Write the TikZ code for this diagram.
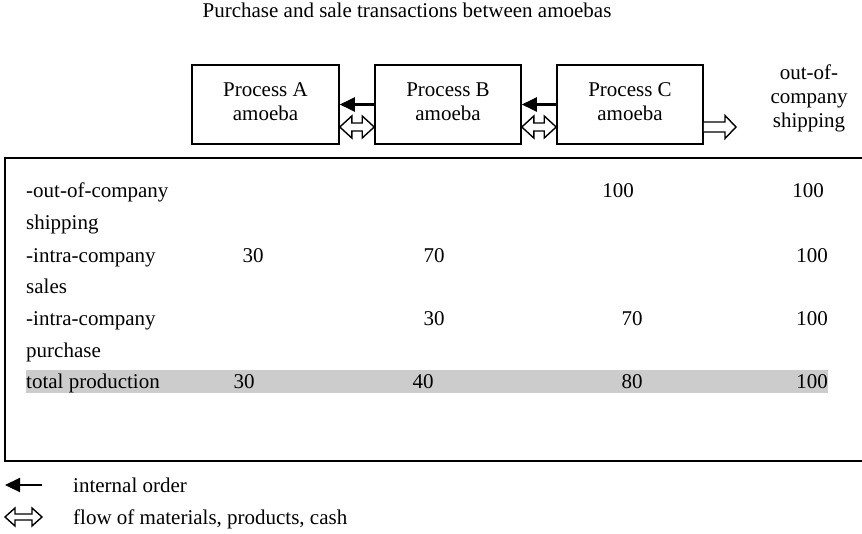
\documentclass[tikz,border=0pt]{standalone}
\usepackage{fontspec}
\setmainfont{Liberation Serif}
\usetikzlibrary{calc,arrows.meta}
\begin{document}
\begin{tikzpicture}[x=1pt,y=-1pt,
  every node/.style={font=\fontsize{21}{24}\selectfont, inner sep=0pt},
  procbox/.style={draw, line width=1.6pt, minimum width=146pt, minimum height=79pt, align=center, text depth=6pt},
  ordarrow/.style={line width=2.2pt, -{Triangle[length=15pt,width=14pt]}},
  hollow/.style={draw, line width=1.4pt, fill=white, line join=miter},
  mainframe/.style={line width=1.8pt},
  rowlabel/.style={anchor=base west},
  num/.style={anchor=base}]
\useasboundingbox (0,0) rectangle (862,533);
\newcommand\hollowdbl[5]{\draw[hollow] let \p1=(#1), \p2=(#2) in
  (\x1,\y1) -- (\x1+#3,\y1+#4) -- (\x1+#3,\y1+#5) -- (\x2-#3,\y1+#5) -- (\x2-#3,\y1+#4) -- (\x2,\y1)
  -- (\x2-#3,\y1-#4) -- (\x2-#3,\y1-#5) -- (\x1+#3,\y1-#5) -- (\x1+#3,\y1-#4) -- cycle;}
\newcommand\hollowsgl[5]{\draw[hollow] let \p1=(#1), \p2=(#2) in
  (\x1,\y1+#5) -- (\x2-#3,\y1+#5) -- (\x2-#3,\y1+#4) -- (\x2,\y1) -- (\x2-#3,\y1-#4) -- (\x2-#3,\y1-#5) -- (\x1,\y1-#5);}

% title
\node[anchor=base] (title) at (407,17) {Purchase and sale transactions between amoebas};

% process boxes
\node[procbox, minimum width=147pt] (A) at (265.5,104.5) {Process A\\amoeba};
\node[procbox] (B) at (448,104.5) {Process B\\amoeba};
\node[procbox] (C) at (630,104.5) {Process C\\amoeba};
\node[align=center] (ship) at (809,98) {out-of-\\company\\shipping};

% internal orders
\draw[ordarrow] (B.west) -- (A.east);
\draw[ordarrow] (C.west) -- (B.east);
\coordinate (shipend) at (736,127);
\hollowdbl{$(A.east)+(0,22.5)$}{$(B.west)+(0,22.5)$}{12pt}{11pt}{4pt}
\hollowdbl{$(B.east)+(0,22.5)$}{$(C.west)+(0,22.5)$}{12pt}{11pt}{4pt}
\hollowsgl{$(C.east)+(0,22.5)$}{shipend}{11pt}{11.5pt}{5pt}

% main frame (right side runs off the picture)
\coordinate (ftr) at (862,158);
\coordinate (ftl) at (5,158);
\coordinate (fbl) at (5,461);
\coordinate (fbr) at (862,461);
\draw[mainframe] (ftr) -- (ftl) -- (fbl) -- (fbr);

% grey total bar
\fill[gray!40] (26,370) rectangle (828,393);

% row labels
\node[rowlabel] (r1a) at (26,197) {-out-of-company};
\node[rowlabel] (r1b) at (26,229) {shipping};
\node[rowlabel] (r2a) at (26,262) {-intra-company};
\node[rowlabel] (r2b) at (26,293) {sales};
\node[rowlabel] (r3a) at (26,325) {-intra-company};
\node[rowlabel] (r3b) at (26,357) {purchase};
\node[rowlabel] (r4) at (26,388) {total production};

% numbers
\node[num] (n13) at (618,197) {100};
\node[num] (n14) at (808,197) {100};
\node[num] (n21) at (253,262) {30};
\node[num] (n22) at (434,262) {70};
\node[num] (n24) at (812,262) {100};
\node[num] (n32) at (434,325) {30};
\node[num] (n33) at (632,325) {70};
\node[num] (n34) at (812,325) {100};
\node[num] (n41) at (244,388) {30};
\node[num] (n42) at (423,388) {40};
\node[num] (n43) at (632,388) {80};
\node[num] (n44) at (812,388) {100};

% legend
\coordinate (l1a) at (5,485);
\coordinate (l1b) at (42,485);
\coordinate (l2a) at (5,517);
\coordinate (l2b) at (42,517);
\draw[ordarrow] (l1b) -- (l1a);
\hollowdbl{l2a}{l2b}{10pt}{9pt}{3pt}
\node[rowlabel] (leg1) at (73,492) {internal order};
\node[rowlabel] (leg2) at (73,524) {flow of materials, products, cash};
\end{tikzpicture}
\end{document}
